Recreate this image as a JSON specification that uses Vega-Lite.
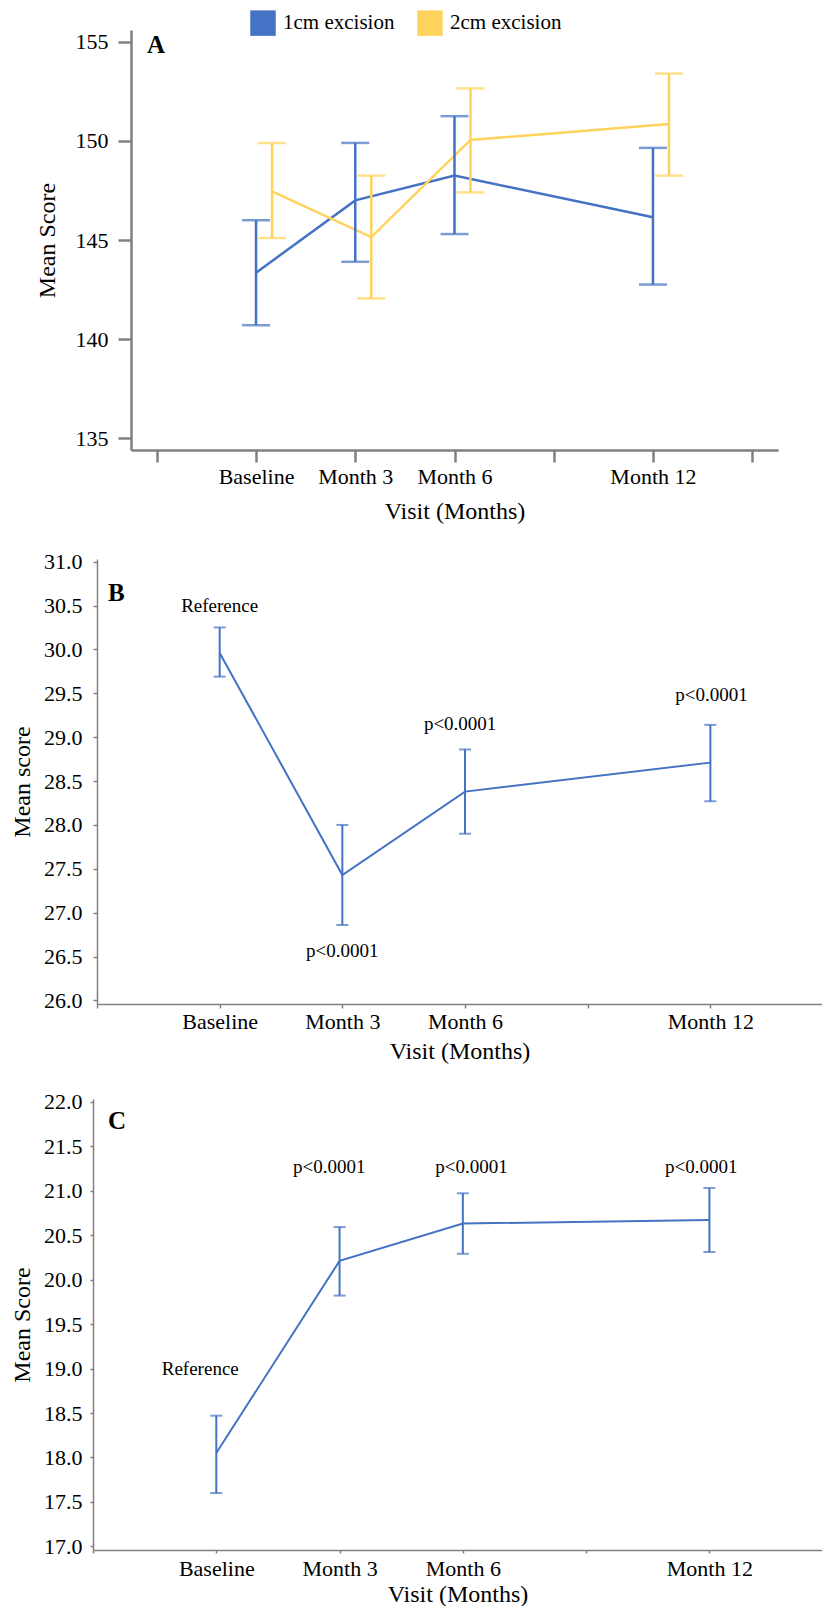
{
  "$schema": "https://vega.github.io/schema/vega-lite/v6.json",
  "background": "white",
  "padding": {"left": 10, "top": 10, "right": 0, "bottom": 0},
  "config": {
    "view": {"stroke": null},
    "font": "Liberation Serif",
    "style": {
      "guide-label": {"font": "Liberation Serif", "fill": "#000000"},
      "guide-title": {"font": "Liberation Serif", "fill": "#000000"}
    },
    "axis": {
      "grid": false,
      "domainColor": "#808080",
      "tickColor": "#808080",
      "labelColor": "#000000",
      "titleColor": "#000000",
      "titleFontWeight": "normal",
      "labelFont": "Liberation Serif",
      "titleFont": "Liberation Serif",
      "labelFlush": false,
      "labelOverlap": false
    },
    "legend": {"labelFont": "Liberation Serif"},
    "title": {"font": "Liberation Serif", "fontWeight": "bold", "fontSize": 25, "color": "#000000", "anchor": "start", "frame": "group", "baseline": "alphabetic"}
  },
  "datasets": {
    "a": [
      {"group": "1cm excision", "visit": 0, "mean": 143.35, "lower": 140.7, "upper": 146.0},
      {"group": "1cm excision", "visit": 3, "mean": 147.0, "lower": 143.9, "upper": 149.9},
      {"group": "1cm excision", "visit": 6, "mean": 148.25, "lower": 145.3, "upper": 151.25},
      {"group": "1cm excision", "visit": 12, "mean": 146.15, "lower": 142.75, "upper": 149.65},
      {"group": "2cm excision", "visit": 0, "mean": 147.45, "lower": 145.1, "upper": 149.9},
      {"group": "2cm excision", "visit": 3, "mean": 145.15, "lower": 142.05, "upper": 148.25},
      {"group": "2cm excision", "visit": 6, "mean": 150.05, "lower": 147.4, "upper": 152.65},
      {"group": "2cm excision", "visit": 12, "mean": 150.85, "lower": 148.25, "upper": 153.4}
    ],
    "b": [
      {"visit": 0, "mean": 29.96, "lower": 29.69, "upper": 30.25, "label": "Reference", "label_x": 0, "label_y": 30.49},
      {"visit": 3, "mean": 27.43, "lower": 26.86, "upper": 28.0, "label": "p<0.0001", "label_x": 3, "label_y": 26.56},
      {"visit": 6, "mean": 28.38, "lower": 27.9, "upper": 28.86, "label": "p<0.0001", "label_x": 5.88, "label_y": 29.15},
      {"visit": 12, "mean": 28.71, "lower": 28.27, "upper": 29.14, "label": "p<0.0001", "label_x": 12.03, "label_y": 29.48}
    ],
    "c": [
      {"visit": 0, "mean": 18.05, "lower": 17.6, "upper": 18.47, "label": "Reference", "label_x": -0.39, "label_y": 19.0},
      {"visit": 3, "mean": 20.21, "lower": 19.82, "upper": 20.59, "label": "p<0.0001", "label_x": 2.75, "label_y": 21.27},
      {"visit": 6, "mean": 20.63, "lower": 20.29, "upper": 20.97, "label": "p<0.0001", "label_x": 6.21, "label_y": 21.27},
      {"visit": 12, "mean": 20.67, "lower": 20.31, "upper": 21.03, "label": "p<0.0001", "label_x": 11.8, "label_y": 21.27}
    ]
  },
  "columns": 1,
  "spacing": 27,
  "concat": [
    {
      "columns": 2,
      "bounds": "flush",
      "spacing": 0,
      "concat": [
        {"width": 38, "height": 1, "data": {"values": []}, "mark": "point"},
        {
          "width": 647,
          "height": 420,
          "title": {"text": "A", "offset": -28, "dx": 16},
          "data": {"name": "a"},
          "encoding": {
            "x": {
              "field": "visit", "type": "quantitative", "title": "Visit (Months)",
              "scale": {"domain": [-3.78, 15.78], "nice": false, "zero": false},
              "axis": {
                "values": [-3, 0, 3, 6, 9, 12, 15],
                "labelExpr": "datum.value == 0 ? 'Baseline' : datum.value == 3 ? 'Month 3' : datum.value == 6 ? 'Month 6' : datum.value == 12 ? 'Month 12' : ''",
                "tickSize": 12, "tickWidth": 2.5, "domainWidth": 2.5,
                "labelFont": "Liberation Serif", "titleFont": "Liberation Serif",
                "labelFontSize": 22, "labelPadding": 4,
                "titleFontSize": 24, "titlePadding": 12
              }
            },
            "color": {
              "field": "group", "type": "nominal",
              "scale": {"domain": ["1cm excision", "2cm excision"], "range": ["#4472C4", "#FFD35B"]},
              "legend": {
                "title": null, "orient": "none", "legendX": 157, "legendY": -20,
                "direction": "horizontal", "symbolType": "square", "symbolSize": 650,
                "symbolStrokeWidth": 0, "labelFontSize": 21, "labelFont": "Liberation Serif",
                "labelColor": "#000000", "columnPadding": 22, "labelOffset": 7,
                "encode": {"symbols": {"update": {"fill": {"scale": "color", "field": "value"}, "fillOpacity": {"value": 1}}}}
              }
            }
          },
          "layer": [
            {
              "mark": {"type": "line", "strokeWidth": 2.5, "xOffset": {"expr": "datum.group === '2cm excision' ? 16 : 0"}},
              "encoding": {
                "y": {
                  "field": "mean", "type": "quantitative", "title": "Mean Score",
                  "scale": {"domain": [134.4, 155.6], "nice": false, "zero": false},
                  "axis": {
                    "values": [135, 140, 145, 150, 155],
                    "tickSize": 13, "tickWidth": 2.5, "domainWidth": 2.5,
                    "labelFont": "Liberation Serif", "titleFont": "Liberation Serif",
                    "labelFontSize": 22, "labelPadding": 10,
                    "titleFontSize": 24, "titlePadding": 16
                  }
                }
              }
            },
            {
              "mark": {"type": "rule", "strokeWidth": 2.5, "xOffset": {"expr": "datum.group === '2cm excision' ? 16 : 0"}},
              "encoding": {"y": {"field": "lower", "type": "quantitative", "title": "Mean Score"}, "y2": {"field": "upper"}}
            },
            {
              "mark": {"type": "tick", "orient": "horizontal", "size": 28, "thickness": 2.5, "xOffset": {"expr": "datum.group === '2cm excision' ? 16 : 0"}},
              "encoding": {"y": {"field": "upper", "type": "quantitative", "title": "Mean Score"}}
            },
            {
              "mark": {"type": "tick", "orient": "horizontal", "size": 28, "thickness": 2.5, "xOffset": {"expr": "datum.group === '2cm excision' ? 16 : 0"}},
              "encoding": {"y": {"field": "lower", "type": "quantitative", "title": "Mean Score"}}
            }
          ]
        }
      ]
    },
    {
      "columns": 2,
      "bounds": "flush",
      "spacing": 0,
      "concat": [
        {"width": 4, "height": 1, "data": {"values": []}, "mark": "point"},
        {
          "width": 725,
          "height": 445,
          "title": {"text": "B", "offset": -55, "dx": 11},
          "data": {"name": "b"},
          "encoding": {
            "x": {
              "field": "visit", "type": "quantitative", "title": "Visit (Months)",
              "scale": {"domain": [-3, 14.73], "nice": false, "zero": false},
              "axis": {
                "values": [-3, 0, 3, 6, 9, 12],
                "labelExpr": "datum.value == 0 ? 'Baseline' : datum.value == 3 ? 'Month 3' : datum.value == 6 ? 'Month 6' : datum.value == 12 ? 'Month 12' : ''",
                "tickSize": 4, "tickWidth": 1.5, "domainWidth": 1.5,
                "labelFont": "Liberation Serif", "titleFont": "Liberation Serif",
                "labelFontSize": 22, "labelPadding": 3,
                "titleFontSize": 24, "titlePadding": 7
              }
            }
          },
          "layer": [
            {
              "mark": {"type": "line", "strokeWidth": 2, "color": "#4472C4"},
              "encoding": {
                "y": {
                  "field": "mean", "type": "quantitative", "title": "Mean score",
                  "scale": {"domain": [25.96, 31.03], "nice": false, "zero": false},
                  "axis": {
                    "values": [26, 26.5, 27, 27.5, 28, 28.5, 29, 29.5, 30, 30.5, 31],
                    "format": ".1f",
                    "tickSize": 4, "tickWidth": 1.5, "domainWidth": 1.5,
                    "labelFont": "Liberation Serif", "titleFont": "Liberation Serif",
                    "labelFontSize": 22, "labelPadding": 11,
                    "titleFontSize": 24, "titlePadding": 9
                  }
                }
              }
            },
            {
              "mark": {"type": "rule", "strokeWidth": 2, "color": "#4472C4"},
              "encoding": {"y": {"field": "lower", "type": "quantitative", "title": "Mean score"}, "y2": {"field": "upper"}}
            },
            {
              "mark": {"type": "tick", "orient": "horizontal", "size": 12, "thickness": 2, "color": "#4472C4"},
              "encoding": {"y": {"field": "upper", "type": "quantitative", "title": "Mean score"}}
            },
            {
              "mark": {"type": "tick", "orient": "horizontal", "size": 12, "thickness": 2, "color": "#4472C4"},
              "encoding": {"y": {"field": "lower", "type": "quantitative", "title": "Mean score"}}
            },
            {
              "mark": {"type": "text", "fontSize": 19, "font": "Liberation Serif", "color": "#000000", "baseline": "middle"},
              "encoding": {
                "x": {"field": "label_x", "type": "quantitative", "title": "Visit (Months)"},
                "y": {"field": "label_y", "type": "quantitative", "title": "Mean score"},
                "text": {"field": "label"}
              }
            }
          ]
        }
      ]
    },
    {
      "width": 729,
      "height": 451,
      "title": {"text": "C", "offset": -43, "dx": 15},
      "data": {"name": "c"},
      "encoding": {
        "x": {
          "field": "visit", "type": "quantitative", "title": "Visit (Months)",
          "scale": {"domain": [-3, 14.74], "nice": false, "zero": false},
          "axis": {
            "values": [-3, 0, 3, 6, 9, 12],
            "labelExpr": "datum.value == 0 ? 'Baseline' : datum.value == 3 ? 'Month 3' : datum.value == 6 ? 'Month 6' : datum.value == 12 ? 'Month 12' : ''",
            "tickSize": 3, "tickWidth": 1.5, "domainWidth": 1.5,
            "labelFont": "Liberation Serif", "titleFont": "Liberation Serif",
            "labelFontSize": 22, "labelPadding": 5,
            "titleFontSize": 24, "titlePadding": 3
          }
        }
      },
      "layer": [
        {
          "mark": {"type": "line", "strokeWidth": 2, "color": "#4472C4"},
          "encoding": {
            "y": {
              "field": "mean", "type": "quantitative", "title": "Mean Score",
              "scale": {"domain": [16.96, 22.03], "nice": false, "zero": false},
              "axis": {
                "values": [17, 17.5, 18, 18.5, 19, 19.5, 20, 20.5, 21, 21.5, 22],
                "format": ".1f",
                "tickSize": 3, "tickWidth": 1.5, "domainWidth": 1.5,
                "labelFont": "Liberation Serif", "titleFont": "Liberation Serif",
                "labelFontSize": 22, "labelPadding": 8,
                "titleFontSize": 24, "titlePadding": 9
              }
            }
          }
        },
        {
          "mark": {"type": "rule", "strokeWidth": 2, "color": "#4472C4"},
          "encoding": {"y": {"field": "lower", "type": "quantitative", "title": "Mean Score"}, "y2": {"field": "upper"}}
        },
        {
          "mark": {"type": "tick", "orient": "horizontal", "size": 12, "thickness": 2, "color": "#4472C4"},
          "encoding": {"y": {"field": "upper", "type": "quantitative", "title": "Mean Score"}}
        },
        {
          "mark": {"type": "tick", "orient": "horizontal", "size": 12, "thickness": 2, "color": "#4472C4"},
          "encoding": {"y": {"field": "lower", "type": "quantitative", "title": "Mean Score"}}
        },
        {
          "mark": {"type": "text", "fontSize": 19, "font": "Liberation Serif", "color": "#000000", "baseline": "middle"},
          "encoding": {
            "x": {"field": "label_x", "type": "quantitative", "title": "Visit (Months)"},
            "y": {"field": "label_y", "type": "quantitative", "title": "Mean Score"},
            "text": {"field": "label"}
          }
        }
      ]
    }
  ]
}
